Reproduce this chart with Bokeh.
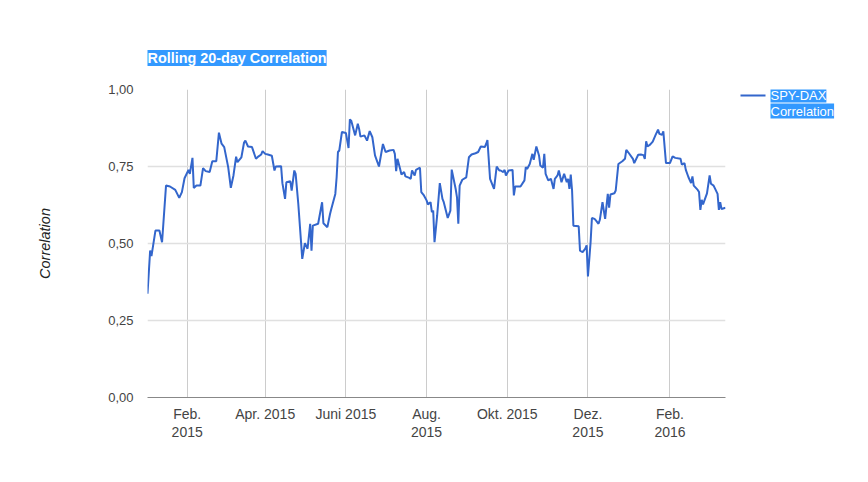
import pandas as pd
from bokeh.plotting import figure
from bokeh.layouts import row
from bokeh.models import Range1d, FixedTicker, Label, ColumnDataSource
from bokeh.embed import file_html
from bokeh.resources import INLINE

# ---- data ----
dates = [
    "2015-01-02", "2015-01-04", "2015-01-05", "2015-01-08", "2015-01-11", "2015-01-13", "2015-01-16",
    "2015-01-19", "2015-01-23", "2015-01-26", "2015-01-28", "2015-01-30",
    "2015-02-02", "2015-02-03", "2015-02-05", "2015-02-06", "2015-02-08", "2015-02-11", "2015-02-13",
    "2015-02-15", "2015-02-18", "2015-02-20", "2015-02-23", "2015-02-25", "2015-02-27",
    "2015-03-01", "2015-03-04", "2015-03-06", "2015-03-08", "2015-03-10", "2015-03-11", "2015-03-14",
    "2015-03-16", "2015-03-17", "2015-03-19", "2015-03-22", "2015-03-25", "2015-03-27", "2015-03-29",
    "2015-03-30",
    "2015-04-01", "2015-04-03", "2015-04-06", "2015-04-08", "2015-04-09", "2015-04-13", "2015-04-14",
    "2015-04-16", "2015-04-17", "2015-04-20", "2015-04-21", "2015-04-23", "2015-04-24", "2015-04-26",
    "2015-04-29",
    "2015-05-01", "2015-05-03", "2015-05-05", "2015-05-06", "2015-05-07", "2015-05-11", "2015-05-14",
    "2015-05-15", "2015-05-18", "2015-05-20", "2015-05-21", "2015-05-24", "2015-05-25", "2015-05-26",
    "2015-05-27", "2015-05-29",
    "2015-06-01", "2015-06-03", "2015-06-04", "2015-06-05", "2015-06-07", "2015-06-08", "2015-06-10",
    "2015-06-11", "2015-06-12", "2015-06-15", "2015-06-17", "2015-06-19", "2015-06-21", "2015-06-23",
    "2015-06-26", "2015-06-29",
    "2015-07-01", "2015-07-04", "2015-07-07", "2015-07-08", "2015-07-09", "2015-07-10", "2015-07-12",
    "2015-07-13", "2015-07-15", "2015-07-16", "2015-07-19", "2015-07-20", "2015-07-21", "2015-07-23",
    "2015-07-24", "2015-07-27", "2015-07-28", "2015-07-30",
    "2015-08-01", "2015-08-02", "2015-08-04", "2015-08-05", "2015-08-06", "2015-08-07", "2015-08-09",
    "2015-08-11", "2015-08-13", "2015-08-14", "2015-08-17", "2015-08-19", "2015-08-20", "2015-08-23",
    "2015-08-24", "2015-08-25", "2015-08-26", "2015-08-28", "2015-08-31",
    "2015-09-02", "2015-09-04", "2015-09-07", "2015-09-09", "2015-09-11", "2015-09-14", "2015-09-15",
    "2015-09-16", "2015-09-18", "2015-09-21", "2015-09-23", "2015-09-25", "2015-09-26", "2015-09-28",
    "2015-09-29", "2015-09-30",
    "2015-10-02", "2015-10-05", "2015-10-06", "2015-10-07", "2015-10-11", "2015-10-14", "2015-10-15",
    "2015-10-16", "2015-10-18", "2015-10-20", "2015-10-21", "2015-10-23", "2015-10-25", "2015-10-26",
    "2015-10-28", "2015-10-29", "2015-10-30",
    "2015-11-01", "2015-11-03", "2015-11-05", "2015-11-06", "2015-11-08", "2015-11-09", "2015-11-11",
    "2015-11-13", "2015-11-15", "2015-11-16", "2015-11-17", "2015-11-18", "2015-11-19", "2015-11-20",
    "2015-11-24", "2015-11-25", "2015-11-27", "2015-11-29", "2015-11-30",
    "2015-12-01", "2015-12-03", "2015-12-04", "2015-12-06", "2015-12-07", "2015-12-09", "2015-12-10",
    "2015-12-12", "2015-12-14", "2015-12-16", "2015-12-17", "2015-12-18", "2015-12-21", "2015-12-22",
    "2015-12-24", "2015-12-27", "2015-12-29", "2015-12-30",
    "2016-01-01", "2016-01-04", "2016-01-05", "2016-01-08", "2016-01-10", "2016-01-12", "2016-01-13",
    "2016-01-14", "2016-01-15", "2016-01-17", "2016-01-19", "2016-01-21", "2016-01-23", "2016-01-24",
    "2016-01-26", "2016-01-27", "2016-01-29",
    "2016-02-01", "2016-02-03", "2016-02-05", "2016-02-09", "2016-02-10", "2016-02-12", "2016-02-13",
    "2016-02-15", "2016-02-17", "2016-02-18", "2016-02-19", "2016-02-22", "2016-02-23", "2016-02-24",
    "2016-02-25", "2016-02-26", "2016-02-29",
    "2016-03-02", "2016-03-03", "2016-03-05", "2016-03-08", "2016-03-09", "2016-03-10", "2016-03-11",
    "2016-03-14",
]

corr = [
    0.337, 0.477, 0.459, 0.542, 0.542, 0.504, 0.688, 0.685, 0.674, 0.648, 0.667, 0.712,
    0.739, 0.726, 0.778, 0.680, 0.688, 0.688, 0.745, 0.735, 0.732, 0.767, 0.767, 0.860, 0.824,
    0.813, 0.748, 0.681, 0.721, 0.782, 0.764, 0.780, 0.828, 0.834, 0.815, 0.813, 0.775, 0.783, 0.789,
    0.800,
    0.791, 0.789, 0.785, 0.737, 0.750, 0.751, 0.696, 0.645, 0.699, 0.702, 0.672, 0.737, 0.726, 0.629,
    0.450,
    0.501, 0.483, 0.564, 0.477, 0.558, 0.564, 0.634, 0.566, 0.553, 0.596, 0.613, 0.661, 0.715, 0.797,
    0.802, 0.862,
    0.859, 0.810, 0.903, 0.899, 0.867, 0.851, 0.889, 0.872, 0.847, 0.851, 0.834, 0.865, 0.845, 0.786,
    0.750, 0.823,
    0.797, 0.802, 0.804, 0.791, 0.735, 0.775, 0.742, 0.724, 0.732, 0.718, 0.713, 0.710, 0.737, 0.721,
    0.739, 0.746, 0.667, 0.656,
    0.640, 0.627, 0.634, 0.602, 0.607, 0.504, 0.591, 0.696, 0.645, 0.634, 0.583, 0.607, 0.740, 0.677,
    0.650, 0.564, 0.688, 0.707, 0.715,
    0.780, 0.789, 0.793, 0.797, 0.815, 0.813, 0.823, 0.836, 0.710, 0.677, 0.750, 0.737, 0.737, 0.732,
    0.739, 0.721,
    0.737, 0.739, 0.656, 0.685, 0.685, 0.705, 0.748, 0.742, 0.758, 0.791, 0.772, 0.815, 0.786, 0.753,
    0.746, 0.791, 0.726,
    0.705, 0.710, 0.677, 0.710, 0.721, 0.737, 0.699, 0.726, 0.699, 0.710, 0.677, 0.724, 0.672, 0.558,
    0.556, 0.477, 0.472, 0.483, 0.494,
    0.393, 0.504, 0.583, 0.580, 0.575, 0.564, 0.577, 0.634, 0.580, 0.661, 0.616, 0.659, 0.663, 0.672,
    0.758, 0.767, 0.775, 0.804,
    0.793, 0.775, 0.761, 0.788, 0.789, 0.787, 0.775, 0.832, 0.815, 0.821, 0.831, 0.851, 0.870, 0.856,
    0.853, 0.864, 0.761,
    0.761, 0.783, 0.778, 0.775, 0.756, 0.761, 0.739, 0.715, 0.696, 0.718, 0.688, 0.674, 0.667, 0.609,
    0.642, 0.627, 0.663,
    0.721, 0.694, 0.688, 0.661, 0.609, 0.634, 0.612, 0.616,
]

x_tick_dates = ["2015-02-01", "2015-04-01", "2015-06-01", "2015-08-01",
                "2015-10-01", "2015-12-01", "2016-02-01"]
x_tick_labels = ["Feb.\n2015", "Apr. 2015", "Juni 2015", "Aug.\n2015",
                 "Okt. 2015", "Dez.\n2015", "Feb.\n2016"]
y_ticks = [0.0, 0.25, 0.5, 0.75, 1.0]
y_tick_labels = ["0,00", "0,25", "0,50", "0,75", "1,00"]
title_text = "Rolling 20-day Correlation"
legend_lines = ["SPY-DAX", "Correlation"]
y_axis_title = "Correlation"

FONT = "Liberation Sans"
LINE_COLOR = "#3366cc"
HILITE = "#3399ff"

dt = pd.to_datetime(dates)
src = ColumnDataSource(dict(date=dt, corr=corr))

# ---- main chart ----
p = figure(width=730, height=474, x_axis_type="datetime",
           output_backend="svg", toolbar_location=None,
           x_range=Range1d(dt.min(), dt.max()), y_range=Range1d(0, 1),
           min_border_left=147, min_border_right=5,
           min_border_top=89, min_border_bottom=77)
p.outline_line_color = None

p.line("date", "corr", source=src, line_color=LINE_COLOR, line_width=2)

# x axis
xt = [int(pd.Timestamp(d).value // 10**6) for d in x_tick_dates]
p.xaxis.ticker = FixedTicker(ticks=xt)
p.xaxis.major_label_overrides = dict(zip(xt, x_tick_labels))
p.xaxis.major_tick_line_color = None
p.xaxis.major_tick_out = 0
p.xaxis.major_tick_in = 0
p.xaxis.minor_tick_line_color = None
p.xaxis.minor_tick_out = 0
p.xaxis.axis_line_color = "#888888"
p.xaxis.major_label_standoff = 8
p.xaxis.major_label_text_font = FONT
p.xaxis.major_label_text_font_size = "14px"
p.xaxis.major_label_text_color = "#444444"
p.xaxis.major_label_text_line_height = 1.15

# y axis
p.yaxis.ticker = FixedTicker(ticks=y_ticks)
p.yaxis.major_label_overrides = dict(zip(y_ticks, y_tick_labels))
p.yaxis.major_tick_line_color = None
p.yaxis.major_tick_out = 0
p.yaxis.major_tick_in = 0
p.yaxis.minor_tick_line_color = None
p.yaxis.minor_tick_out = 0
p.yaxis.axis_line_color = None
p.yaxis.major_label_standoff = 14
p.yaxis.major_label_text_font = FONT
p.yaxis.major_label_text_font_size = "13px"
p.yaxis.major_label_text_color = "#444444"
p.yaxis.axis_label = y_axis_title
p.yaxis.axis_label_text_font = FONT
p.yaxis.axis_label_text_font_size = "14.5px"
p.yaxis.axis_label_text_font_style = "italic"
p.yaxis.axis_label_text_color = "#222222"
p.yaxis.axis_label_standoff = 52

# grids
p.xgrid.grid_line_color = "#cccccc"
p.xgrid.grid_line_width = 1
p.ygrid.grid_line_color = "#e0e0e0"
p.ygrid.grid_line_width = 1.5

# title
p.title.text = title_text
p.title.align = "left"
p.title.text_font = FONT
p.title.text_font_size = "14.4px"
p.title.text_font_style = "bold"
p.title.text_color = "white"
p.title.background_fill_color = HILITE
p.title.standoff = 47

# ---- legend panel (to the right of the chart) ----
# its y range is expressed in page pixels (top = 0) so the key sits beside the
# first gridline like in the reference
leg = figure(width=130, height=474, output_backend="svg", toolbar_location=None,
             x_range=Range1d(0, 130), y_range=Range1d(397, 89),
             min_border_left=0, min_border_right=0,
             min_border_top=89, min_border_bottom=77,
             x_axis_location=None, y_axis_location=None)
leg.outline_line_color = None
leg.grid.visible = False
leg.line([10, 35], [95, 95], line_color=LINE_COLOR, line_width=2)
for i, txt in enumerate(legend_lines):
    leg.add_layout(Label(x=40, y=87 + 16 * i, text=txt, text_baseline="top",
                         text_align="left", text_font=FONT, text_font_size="13px",
                         text_color="white", background_fill_color=HILITE))

layout = row(p, leg)
open("out.html", "w").write(file_html(layout, INLINE))
